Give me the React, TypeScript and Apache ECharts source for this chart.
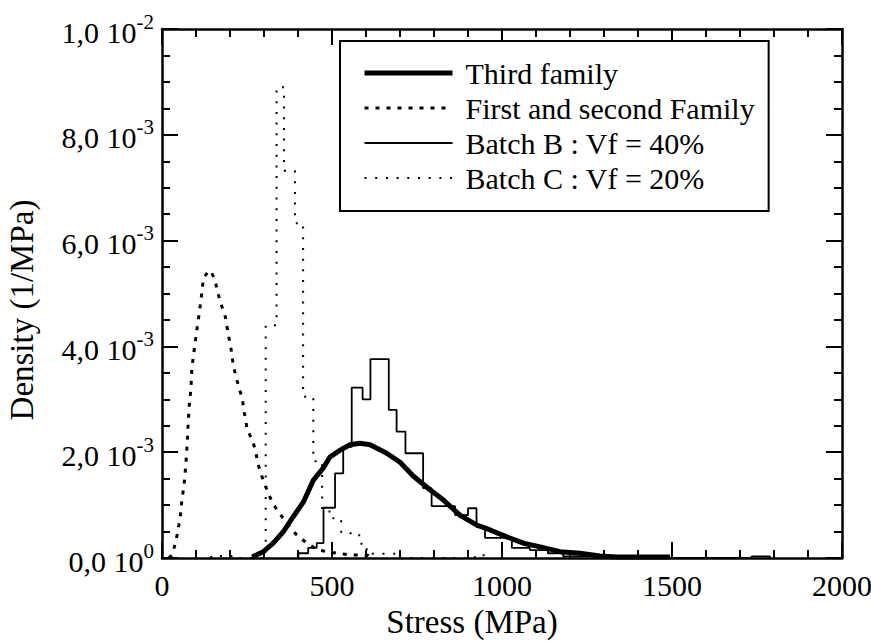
import React, { useEffect, useRef } from "react";
import * as echarts from "echarts";

// ---------- data ----------
const seriesNames = [
  "Third family",
  "First and second Family",
  "Batch B : Vf = 40%",
  "Batch C : Vf = 20%",
];

// density values below are in units of 1e-3 (1/MPa)
const DENSITY_UNIT = 1e-3;

// y tick labels: [mantissa text, exponent]
const yTickLabels: [string, string][] = [
  ["0,0 10", "0"],
  ["2,0 10", "-3"],
  ["4,0 10", "-3"],
  ["6,0 10", "-3"],
  ["8,0 10", "-3"],
  ["1,0 10", "-2"],
];

// Third family (smooth fitted density)
const thirdStress = [265, 279, 298, 327, 357, 386, 416, 445, 474, 494, 524, 553, 582, 612, 661, 700, 739, 788, 827, 876, 926, 965, 1014, 1063, 1112, 1171, 1229, 1288, 1337, 1494];
const thirdDensity = [0.02, 0.06, 0.12, 0.28, 0.5, 0.78, 1.06, 1.47, 1.7, 1.91, 2.04, 2.14, 2.17, 2.14, 1.98, 1.81, 1.55, 1.29, 1.1, 0.81, 0.62, 0.53, 0.4, 0.28, 0.21, 0.12, 0.09, 0.04, 0.02, 0.02];

// First and second family (estimated density)
const firstStress = [20, 30, 38, 45, 50, 55, 58, 63, 66, 70, 73, 75, 77, 80, 85, 88, 95, 102, 109, 117, 122, 135, 144, 156, 164, 171, 185, 195, 203, 210, 218, 226, 236, 242, 251, 267, 276, 281, 290, 301, 313, 329, 352, 394, 426, 459, 494, 553, 606, 620];
const firstDensity = [0, 0.06, 0.25, 0.45, 0.64, 0.85, 1.06, 1.3, 1.46, 1.75, 2.06, 2.27, 2.55, 2.87, 3.2, 3.6, 3.95, 4.29, 4.6, 5.0, 5.3, 5.4, 5.43, 5.24, 5.03, 4.84, 4.6, 4.23, 3.95, 3.63, 3.42, 3.23, 3.02, 2.75, 2.42, 2.21, 2.0, 1.81, 1.61, 1.42, 1.21, 1.0, 0.79, 0.45, 0.28, 0.15, 0.11, 0.06, 0.05, 0];

// Batch B histogram (bin edges in MPa, bin heights)
const batchBEdges = [401, 430, 455, 475, 509, 533, 558, 590, 613, 667, 690, 716, 768, 793, 862, 900, 925, 950, 1029, 1082, 1135, 1180, 1300, 1734, 1788];
const batchBValues = [0.09, 0.19, 0.28, 0.95, 1.6, 2.1, 3.22, 3.0, 3.76, 2.8, 2.39, 1.98, 1.32, 0.98, 0.81, 0.94, 0.59, 0.38, 0.19, 0.15, 0.09, 0.03, 0, 0.03];

// Batch C histogram
const batchCEdges = [145, 205, 305, 337, 359, 391, 415, 445, 471, 503, 527, 580, 602, 700, 920, 960];
const batchCValues = [0.04, 0, 4.4, 8.9, 7.32, 6.33, 3.05, 1.83, 0.88, 0.75, 0.47, 0.27, 0.08, 0, 0.05];

// ---------- helpers ----------
function curve(xs: number[], ys: number[]) {
  return xs.map((x, i) => [x, ys[i] * DENSITY_UNIT]);
}
function histogram(edges: number[], values: number[]) {
  const pts: number[][] = [[edges[0], 0]];
  values.forEach((v, i) => {
    pts.push([edges[i], v * DENSITY_UNIT]);
    pts.push([edges[i + 1], v * DENSITY_UNIT]);
  });
  pts.push([edges[edges.length - 1], 0]);
  return pts;
}

export default function App() {
  const ref = useRef<HTMLDivElement>(null);

  useEffect(() => {
    if (!ref.current) return;
    const chart = echarts.init(ref.current, null, { renderer: "svg" });
    const font = "Liberation Serif";
    const black = "#000";
    const axisLine = { show: true, onZero: false, lineStyle: { color: black, width: 2.5 } };
    const tick = { show: true, inside: true, length: 16, lineStyle: { color: black, width: 2 } };

    const option: any = {
      animation: false,
      textStyle: { fontFamily: font, color: black },
      grid: { left: 162, right: 29, top: 29, bottom: 83, containLabel: false, outerBoundsMode: "none" },
      legend: {
        orient: "vertical",
        left: 340,
        top: 41,
        padding: [17, 14, 18, 22],
        itemWidth: 88,
        itemHeight: 30,
        itemGap: 5,
        borderColor: black,
        borderWidth: 2,
        backgroundColor: "#fff",
        itemStyle: { opacity: 0, borderWidth: 0 },
        lineStyle: { width: "inherit", type: "inherit" },
        textStyle: { fontSize: 30, fontFamily: font, color: black, padding: [0, 0, 0, 8], lineHeight: 30 },
        data: seriesNames,
      },
      xAxis: [
        {
          type: "value",
          min: 0,
          max: 2000,
          interval: 500,
          position: "bottom",
          name: "Stress (MPa)",
          nameLocation: "middle",
          nameGap: 47,
          nameTextStyle: { fontSize: 33, fontFamily: font, color: black, padding: [0, 60, 0, 0] },
          axisLine,
          axisTick: tick,
          minorTick: { show: true, splitNumber: 5, length: 8, lineStyle: { color: black, width: 2 } },
          axisLabel: { fontSize: 30, fontFamily: font, color: black, margin: 12, formatter: (v: number) => String(v) },
          splitLine: { show: false },
        },
        {
          type: "value",
          min: 0,
          max: 2000,
          interval: 500,
          position: "top",
          axisLine,
          axisTick: tick,
          minorTick: { show: true, splitNumber: 5, length: 8, lineStyle: { color: black, width: 2 } },
          axisLabel: { show: false },
          splitLine: { show: false },
        },
      ],
      yAxis: [
        {
          type: "value",
          min: 0,
          max: 0.01,
          interval: 0.002,
          position: "left",
          name: "Density (1/MPa)",
          nameLocation: "middle",
          nameGap: 124,
          nameTextStyle: { fontSize: 33, fontFamily: font, color: black, padding: [0, 33, 0, 0] },
          axisLine,
          axisTick: tick,
          minorTick: { show: true, splitNumber: 4, length: 8, lineStyle: { color: black, width: 2 } },
          axisLabel: {
            margin: 8,
            fontFamily: font,
            fontSize: 30,
            formatter: (v: number) => {
              const idx = Math.round(v / 0.002);
              const lab = yTickLabels[idx];
              return lab ? `{m|${lab[0]}}{s|${lab[1]}}` : "";
            },
            rich: {
              m: { fontSize: 30, fontFamily: font, color: black, lineHeight: 36, verticalAlign: "bottom" },
              s: { fontSize: 21, fontFamily: font, color: black, lineHeight: 21, verticalAlign: "top" },
            },
          },
          splitLine: { show: false },
        },
        {
          type: "value",
          min: 0,
          max: 0.01,
          interval: 0.002,
          position: "right",
          axisLine,
          axisTick: tick,
          minorTick: { show: true, splitNumber: 4, length: 8, lineStyle: { color: black, width: 2 } },
          axisLabel: { show: false },
          splitLine: { show: false },
        },
      ],
      series: [
        {
          name: seriesNames[0],
          type: "line",
          data: curve(thirdStress, thirdDensity),
          symbol: "none",
          showSymbol: false,
          itemStyle: { color: black },
          lineStyle: { color: black, width: 5 },
          z: 5,
        },
        {
          name: seriesNames[1],
          type: "line",
          data: curve(firstStress, firstDensity),
          symbol: "none",
          showSymbol: false,
          itemStyle: { color: black },
          lineStyle: { color: black, width: 3, type: [4, 7], cap: "butt" },
          z: 4,
        },
        {
          name: seriesNames[2],
          type: "line",
          data: histogram(batchBEdges, batchBValues),
          symbol: "none",
          showSymbol: false,
          itemStyle: { color: black },
          lineStyle: { color: black, width: 1.8 },
          z: 3,
        },
        {
          name: seriesNames[3],
          type: "line",
          data: histogram(batchCEdges, batchCValues),
          symbol: "none",
          showSymbol: false,
          itemStyle: { color: black },
          lineStyle: { color: black, width: 2, type: [2, 8.7], cap: "butt" },
          z: 3,
        },
      ],
    };
    chart.setOption(option);
    return () => chart.dispose();
  }, []);

  return (
    <div
      ref={ref}
      style={{ position: "absolute", left: 0, top: 0, width: 871, height: 641, background: "#fff" }}
    />
  );
}
